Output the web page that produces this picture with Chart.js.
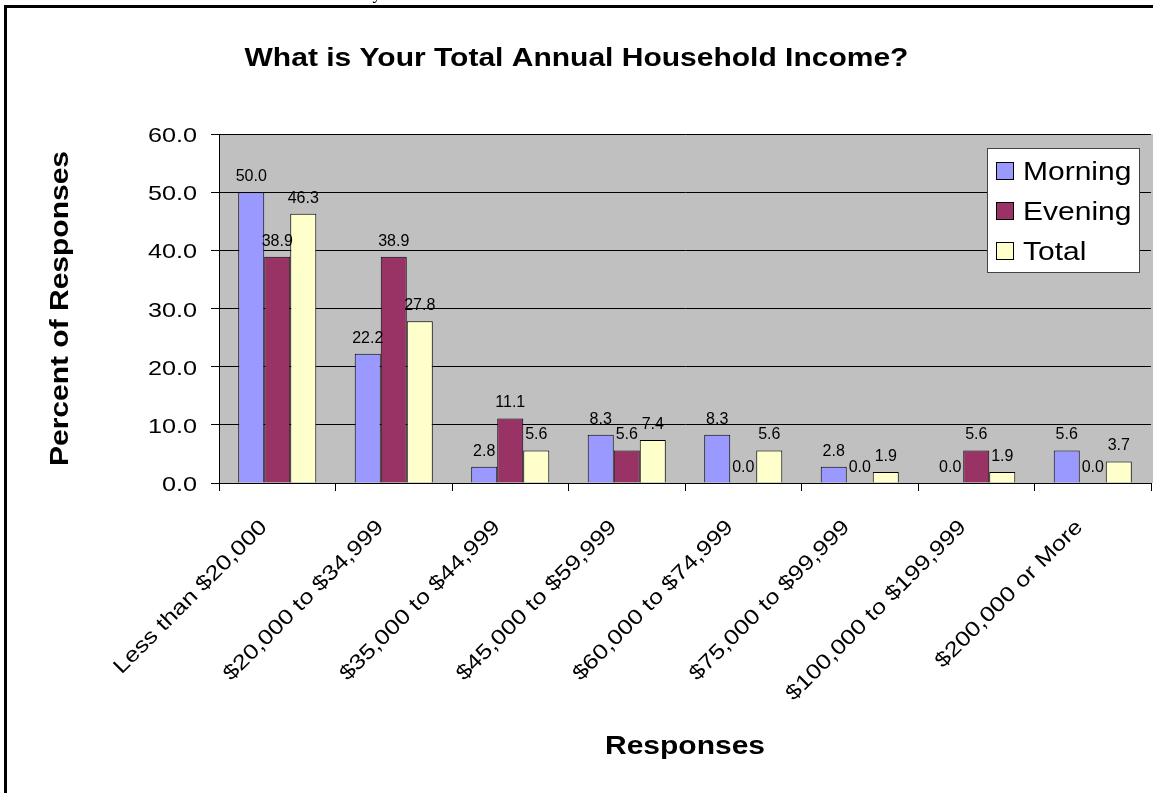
<!DOCTYPE html>
<html>
<head>
<meta charset="utf-8">
<title>What is Your Total Annual Household Income?</title>
<script src="https://cdn.jsdelivr.net/npm/chart.js@4.4.1/dist/chart.umd.min.js"></script>
<style>
  html, body { margin: 0; padding: 0; background: #ffffff; }
  canvas { display: block; }
</style>
</head>
<body>
<canvas id="chart" width="1153" height="793"></canvas>
<script>
// Income brackets and response percentages
const categories = [
  'Less than $20,000',
  '$20,000 to $34,999',
  '$35,000 to $44,999',
  '$45,000 to $59,999',
  '$60,000 to $74,999',
  '$75,000 to $99,999',
  '$100,000 to $199,999',
  '$200,000 or More'
];
const morning = [50.0, 22.2, 2.8, 8.3, 8.3, 2.8, 0.0, 5.6];
const evening = [38.9, 38.9, 11.1, 5.6, 0.0, 0.0, 5.6, 0.0];
const total   = [46.3, 27.8, 5.6, 7.4, 5.6, 1.9, 1.9, 3.7];
const seriesNames = ['Morning', 'Evening', 'Total'];
const yMin = 0, yMax = 60, yStep = 10;

const chartTitle = 'What is Your Total Annual Household Income?';
const yTitle = 'Percent of Responses';
const xTitle = 'Responses';

const FONT = '"Liberation Sans", Arial, Helvetica, sans-serif';
const WIDE = 1.2; // horizontal text widening used for titles, ticks and legend

function drawText(ctx, text, x, y, o) {
  ctx.save();
  ctx.translate(x, y);
  if (o.rotate) ctx.rotate(o.rotate);
  ctx.scale(o.sx || 1, 1);
  ctx.font = o.font;
  ctx.textAlign = o.align || 'left';
  ctx.textBaseline = o.baseline || 'alphabetic';
  ctx.fillStyle = o.color || '#000';
  ctx.fillText(text, 0, 0);
  ctx.restore();
}

// Page background, plot area fill
const backdrop = {
  id: 'backdrop',
  beforeDraw(chart) {
    const { ctx, chartArea: a, width, height } = chart;
    ctx.save();
    ctx.fillStyle = '#ffffff';
    ctx.fillRect(0, 0, width, height);
    ctx.fillStyle = '#c0c0c0';
    ctx.fillRect(a.left, a.top, width - a.left, a.bottom - a.top);
    ctx.restore();
  }
};

// Frame, titles, tick labels, value labels and legend
const decorations = {
  id: 'decorations',
  afterDraw(chart) {
    const { ctx, chartArea: a, width, height } = chart;
    const xs = chart.scales.x, ys = chart.scales.y;

    // outer frame (left and top edges)
    ctx.save();
    ctx.fillStyle = '#000';
    ctx.fillRect(4, 5, width - 4, 3);
    ctx.fillRect(4, 5, 3, height - 5);
    ctx.restore();

    // descender of text from the line above the frame
    drawText(ctx, 'y', 377, -1, { font: '18px "Liberation Serif", "Times New Roman", serif', align: 'center' });

    // chart title
    drawText(ctx, chartTitle, width / 2, 66, { font: 'bold 25px ' + FONT, align: 'center', sx: WIDE });

    // y axis title
    drawText(ctx, yTitle, 68, (a.top + a.bottom) / 2, { font: 'bold 25px ' + FONT, align: 'center', rotate: -Math.PI / 2, sx: WIDE });

    // x axis title
    drawText(ctx, xTitle, (a.left + a.right) / 2, 754, { font: 'bold 25px ' + FONT, align: 'center', sx: WIDE });

    // y tick labels
    ys.ticks.forEach(t => {
      const py = ys.getPixelForValue(t.value);
      drawText(ctx, t.value.toFixed(1), 197, py + 8, { font: '21px ' + FONT, align: 'right', sx: WIDE });
    });

    // x tick labels, rotated
    categories.forEach((c, i) => {
      const px = xs.getPixelForTick(i);
      drawText(ctx, c, px - 9, a.bottom + 45, { font: '21px ' + FONT, align: 'right', rotate: -Math.PI / 4, sx: WIDE });
    });

    // value labels above bars
    chart.data.datasets.forEach((ds, di) => {
      chart.getDatasetMeta(di).data.forEach((bar, i) => {
        drawText(ctx, ds.data[i].toFixed(1), bar.x, bar.y - 11, { font: '16px ' + FONT, align: 'center' });
      });
    });

    // legend
    const lx = 987, ly = 148, lw = 153, lh = 125;
    ctx.save();
    ctx.fillStyle = '#ffffff';
    ctx.fillRect(lx, ly, lw, lh);
    ctx.strokeStyle = '#444';
    ctx.lineWidth = 1;
    ctx.strokeRect(lx + 0.5, ly + 0.5, lw - 1, lh - 1);
    chart.data.datasets.forEach((ds, di) => {
      const base = 180 + di * 40;
      ctx.fillStyle = ds.backgroundColor;
      ctx.fillRect(996, base - 18, 18, 18);
      ctx.strokeStyle = '#000';
      ctx.strokeRect(996.5, base - 17.5, 17, 17);
      drawText(ctx, ds.label, 1023, base, { font: '25px ' + FONT, align: 'left', sx: WIDE });
    });
    ctx.restore();
  }
};

const barStyle = { borderColor: '#000000', borderWidth: 1, categoryPercentage: 0.67, barPercentage: 1.0 };

new Chart(document.getElementById('chart'), {
  type: 'bar',
  data: {
    labels: categories,
    datasets: [
      Object.assign({ label: seriesNames[0], data: morning, backgroundColor: '#9999ff' }, barStyle),
      Object.assign({ label: seriesNames[1], data: evening, backgroundColor: '#993366' }, barStyle),
      Object.assign({ label: seriesNames[2], data: total,   backgroundColor: '#ffffcc' }, barStyle)
    ]
  },
  options: {
    responsive: false,
    animation: false,
    devicePixelRatio: 1,
    layout: { padding: { left: 211, right: 2, top: 134, bottom: 302 } },
    plugins: {
      legend: { display: false },
      title: { display: false },
      tooltip: { enabled: false }
    },
    scales: {
      x: {
        type: 'category',
        offset: true,
        ticks: { display: false },
        grid: { offset: true, drawOnChartArea: false, drawTicks: true, tickLength: 8, color: '#000', lineWidth: 1 },
        border: { display: true, color: '#000', width: 1 }
      },
      y: {
        min: yMin,
        max: yMax,
        ticks: { display: false, stepSize: yStep },
        grid: { drawTicks: true, tickLength: 8, color: '#000', lineWidth: 1 },
        border: { display: true, color: '#000', width: 1 }
      }
    }
  },
  plugins: [backdrop, decorations]
});
</script>
</body>
</html>
